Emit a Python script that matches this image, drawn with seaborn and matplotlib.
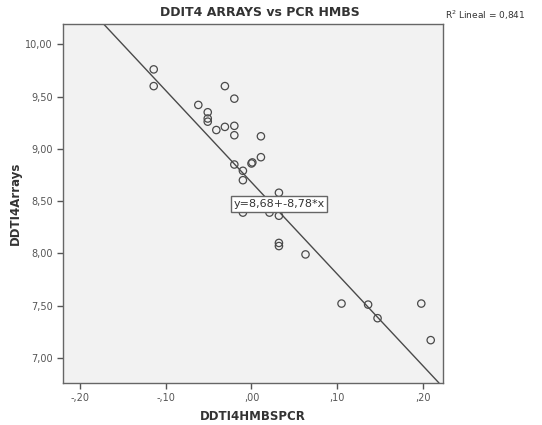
import numpy as np
import pandas as pd
import seaborn as sns
import matplotlib
matplotlib.use("Agg")
import matplotlib.pyplot as plt
from matplotlib.ticker import FuncFormatter

# values
pcr_hmbs = [-0.114, -0.114, -0.031, -0.020, -0.062, -0.051, -0.051, -0.051,
            -0.041, -0.031, -0.020, -0.020, 0.011, 0.011, -0.020, 0.001,
            0.000, -0.010, -0.010, 0.032, -0.010, 0.021, 0.032, 0.032,
            0.032, 0.063, 0.105, 0.136, 0.147, 0.198, 0.209]
arrays = [9.76, 9.60, 9.60, 9.48, 9.42, 9.35, 9.29, 9.26,
          9.18, 9.21, 9.22, 9.13, 9.12, 8.92, 8.85, 8.87,
          8.86, 8.79, 8.70, 8.58, 8.39, 8.39, 8.36, 8.10,
          8.07, 7.99, 7.52, 7.51, 7.38, 7.52, 7.17]
intercept = 8.68
slope = -8.78
r2 = 0.841

x_ticks = [-0.20, -0.10, 0.00, 0.10, 0.20]
y_ticks = [7.0, 7.5, 8.0, 8.5, 9.0, 9.5, 10.0]

df = pd.DataFrame({"DDTI4HMBSPCR": pcr_hmbs, "DDTI4Arrays": arrays})

sns.set_style("white")
plt.rcParams['font.family'] = ['DejaVu Sans']

fig = plt.figure(figsize=(5.42, 4.25), dpi=100)
ax = fig.add_axes([0.1162, 0.0988, 0.7011, 0.8447])
ax.set_facecolor("#f2f2f2")

sns.scatterplot(data=df, x="DDTI4HMBSPCR", y="DDTI4Arrays", ax=ax,
                marker="o", s=28, facecolors="none", edgecolor="#4a4a4a",
                linewidth=0.9, zorder=3)

ax.axline((0, intercept), slope=slope, color="#4a4a4a", lw=1.0, zorder=2)

ax.set_xlim(-0.2198, 0.2233)
ax.set_ylim(6.76, 10.194)
ax.set_xticks(x_ticks)
ax.set_yticks(y_ticks)


def comma_fmt(v, pos):
    s = "%.2f" % v
    s = s.replace("0.", ".") if abs(v) < 1 else s
    return s.replace(".", ",")


ax.xaxis.set_major_formatter(FuncFormatter(comma_fmt))
ax.yaxis.set_major_formatter(FuncFormatter(comma_fmt))
ax.tick_params(axis="both", direction="out", length=4, width=1, color="#555555",
               labelsize=7, labelcolor="#555555", left=True, bottom=True)
for sp in ax.spines.values():
    sp.set_color("#666666")
    sp.set_linewidth(1.0)

ax.set_xlabel("DDTI4HMBSPCR", fontsize=8.5, fontweight="bold", color="#333333", labelpad=5)
ax.set_ylabel("DDTI4Arrays", fontsize=8.5, fontweight="bold", color="#333333", labelpad=2)
ax.set_title("DDIT4 ARRAYS vs PCR HMBS", fontsize=9, fontweight="bold", color="#333333",
             pad=6, x=0.518)

ax.text(0.032, 8.473, "y=8,68+-8,78*x", ha="center", va="center", fontsize=8,
        color="#333333", zorder=5,
        bbox=dict(boxstyle="square,pad=0.25", fc="white", ec="#666666", lw=1))
ax.text(1.005, 1.005, "R$^2$ Lineal = %s" % ("%.3f" % r2).replace(".", ","),
        transform=ax.transAxes, ha="left", va="bottom", fontsize=6.5, color="#333333")

fig.savefig("out.png", dpi=100)
